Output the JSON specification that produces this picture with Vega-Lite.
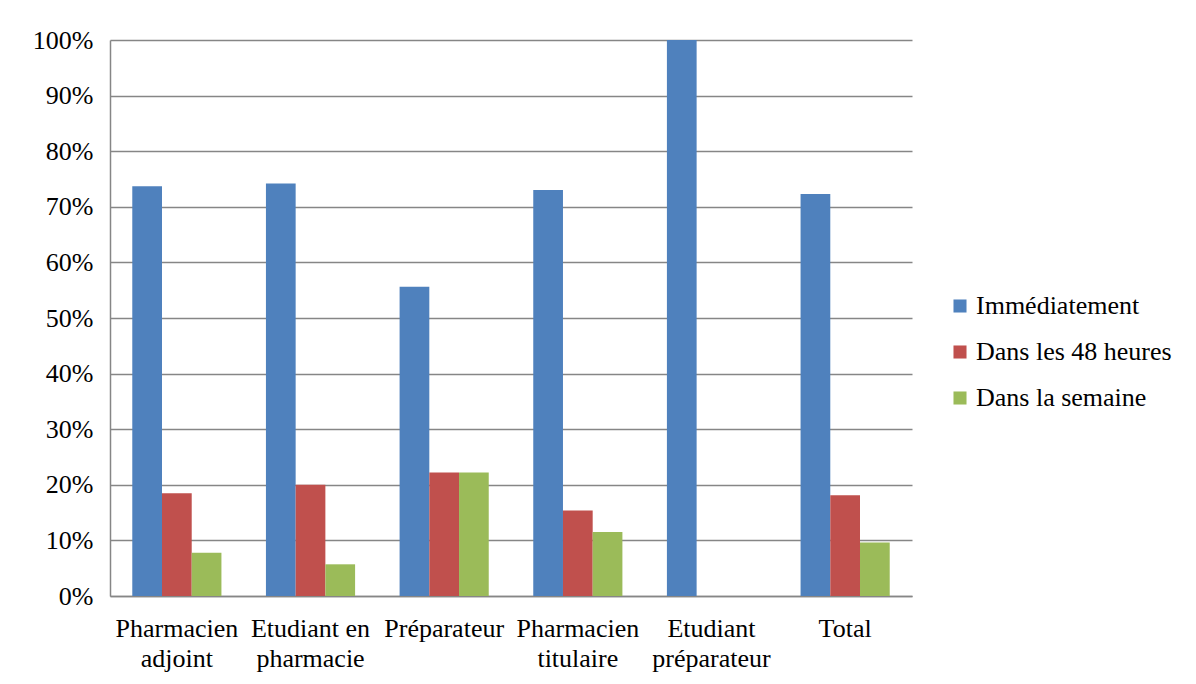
{
  "$schema": "https://vega.github.io/schema/vega-lite/v6.json",
  "autosize": {"type": "none"},
  "width": 802,
  "height": 556,
  "padding": {"left": 110, "top": 40, "right": 284, "bottom": 88},
  "background": "white",
  "data": {
    "values": [
      {"cat": "Pharmacien adjoint", "serie": "Immédiatement", "v": 0.737},
      {"cat": "Pharmacien adjoint", "serie": "Dans les 48 heures", "v": 0.185},
      {"cat": "Pharmacien adjoint", "serie": "Dans la semaine", "v": 0.078},
      {"cat": "Etudiant en pharmacie", "serie": "Immédiatement", "v": 0.742},
      {"cat": "Etudiant en pharmacie", "serie": "Dans les 48 heures", "v": 0.2},
      {"cat": "Etudiant en pharmacie", "serie": "Dans la semaine", "v": 0.057},
      {"cat": "Préparateur", "serie": "Immédiatement", "v": 0.556},
      {"cat": "Préparateur", "serie": "Dans les 48 heures", "v": 0.222},
      {"cat": "Préparateur", "serie": "Dans la semaine", "v": 0.222},
      {"cat": "Pharmacien titulaire", "serie": "Immédiatement", "v": 0.73},
      {"cat": "Pharmacien titulaire", "serie": "Dans les 48 heures", "v": 0.154},
      {"cat": "Pharmacien titulaire", "serie": "Dans la semaine", "v": 0.115},
      {"cat": "Etudiant préparateur", "serie": "Immédiatement", "v": 1.0},
      {"cat": "Etudiant préparateur", "serie": "Dans les 48 heures", "v": 0},
      {"cat": "Etudiant préparateur", "serie": "Dans la semaine", "v": 0},
      {"cat": "Total", "serie": "Immédiatement", "v": 0.723},
      {"cat": "Total", "serie": "Dans les 48 heures", "v": 0.181},
      {"cat": "Total", "serie": "Dans la semaine", "v": 0.096}
    ]
  },
  "mark": {"type": "bar"},
  "encoding": {
    "x": {
      "field": "cat", "type": "nominal", "sort": null,
      "scale": {"paddingInner": 0.333, "paddingOuter": 0.1667},
      "axis": {
        "title": null, "labelAngle": 0, "ticks": false,
        "labelFont": "Liberation Serif, Times New Roman, serif", "labelFontSize": 26, "labelColor": "black",
        "labelPadding": 19, "labelLineHeight": 30, "labelBaseline": "top",
        "labelLimit": 300, "labelOverlap": false,
        "domainColor": "#868686", "domainWidth": 1.5,
        "labelExpr": "datum.value == 'Pharmacien adjoint' ? ['Pharmacien', 'adjoint'] : datum.value == 'Etudiant en pharmacie' ? ['Etudiant en', 'pharmacie'] : datum.value == 'Pharmacien titulaire' ? ['Pharmacien', 'titulaire'] : datum.value == 'Etudiant préparateur' ? ['Etudiant', 'préparateur'] : datum.value"
      }
    },
    "xOffset": {
      "field": "serie", "type": "nominal", "sort": ["Immédiatement", "Dans les 48 heures", "Dans la semaine"],
      "scale": {"paddingInner": 0, "paddingOuter": 0}
    },
    "y": {
      "field": "v", "type": "quantitative",
      "scale": {"domain": [0, 1], "nice": false},
      "axis": {
        "title": null, "format": ".0%", "values": [0, 0.1, 0.2, 0.3, 0.4, 0.5, 0.6, 0.7, 0.8, 0.9, 1],
        "ticks": false, "labelPadding": 17, "labelOverlap": false, "labelFlush": false,
        "labelFont": "Liberation Serif, Times New Roman, serif", "labelFontSize": 26, "labelColor": "black",
        "gridColor": "#868686", "gridWidth": 1.5,
        "domainColor": "#868686", "domainWidth": 1.5
      }
    },
    "color": {
      "field": "serie", "type": "nominal",
      "sort": ["Immédiatement", "Dans les 48 heures", "Dans la semaine"],
      "scale": {"domain": ["Immédiatement", "Dans les 48 heures", "Dans la semaine"], "range": ["#4F81BD", "#C0504D", "#9BBB59"]},
      "legend": {
        "title": null, "orient": "none", "legendX": 837, "legendY": 253,
        "symbolType": "square", "symbolSize": 170, "symbolStrokeWidth": 0,
        "labelFont": "Liberation Serif, Times New Roman, serif", "labelFontSize": 26, "labelColor": "black",
        "labelOffset": 3, "rowPadding": 20, "labelLimit": 300
      }
    }
  },
  "config": {"view": {"stroke": null}}
}
